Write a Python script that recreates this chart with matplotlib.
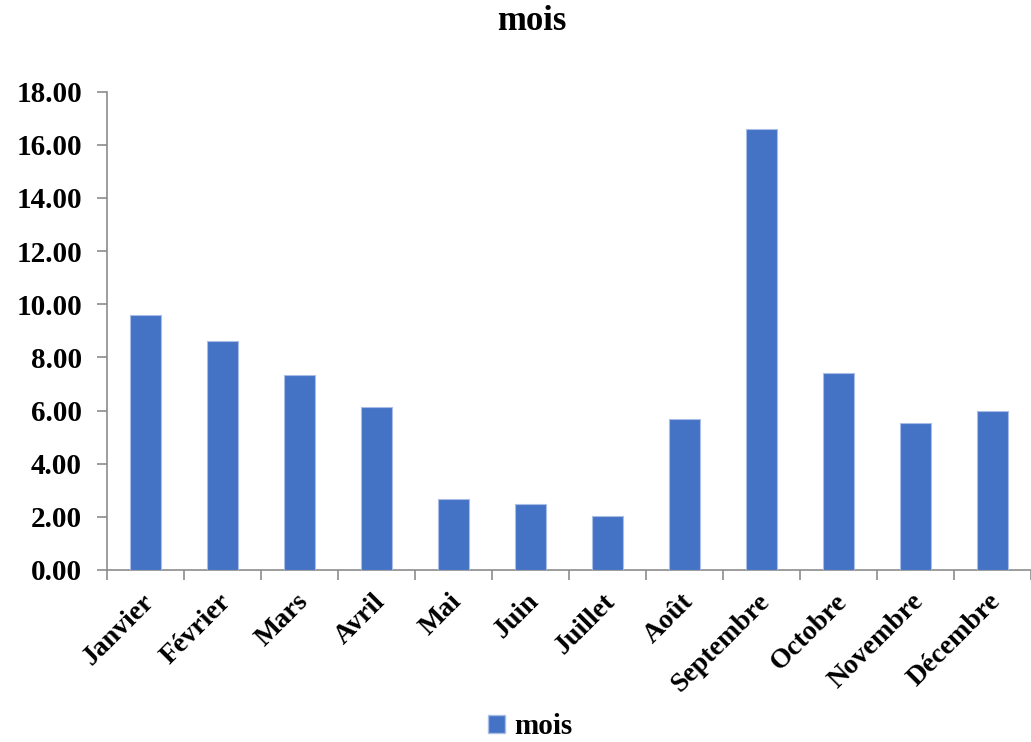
import matplotlib
matplotlib.use("Agg")
import matplotlib.pyplot as plt
from matplotlib.patches import Patch

# Monthly values
months = ["Janvier", "Février", "Mars", "Avril", "Mai", "Juin",
          "Juillet", "Août", "Septembre", "Octobre", "Novembre", "Décembre"]
values = [9.60, 8.62, 7.34, 6.13, 2.66, 2.50,
          2.04, 5.67, 16.61, 7.41, 5.53, 5.98]
y_ticks = [0, 2, 4, 6, 8, 10, 12, 14, 16, 18]
series_name = "mois"

bar_color = "#4472C4"
axis_color = "#8c8c8c"

plt.rcParams["font.family"] = ["Liberation Serif", "DejaVu Serif"]
plt.rcParams["font.weight"] = "bold"

fig = plt.figure(figsize=(10.31, 7.42), dpi=100)
W, H = 1031, 742
left, right, bottom, top = 107, 1031, 570, 91.7
ax = fig.add_axes([left / W, 1 - bottom / H, (right - left) / W, (bottom - top) / H])

x = list(range(len(months)))
ax.bar(x, values, width=0.4, color=bar_color, edgecolor="#a9bde6", linewidth=0.8, zorder=3)

cat_px = 77.5
ax.set_xlim(-0.5, -0.5 + (right - left) / cat_px)
ax.set_ylim(0, 18)

ax.set_yticks(y_ticks)
ax.set_yticklabels([f"{v:.2f}" for v in y_ticks], fontsize=21, fontweight="bold")

# category boundaries carry the tick marks, labels sit at the bar centres
ax.set_xticks([i - 0.5 for i in range(len(months) + 1)])
ax.set_xticklabels([])
ax.set_xticks([i + 0.06 for i in x], minor=True)
ax.set_xticklabels(months, minor=True, rotation=45, ha="right", va="center",
                   rotation_mode="anchor", fontsize=20, fontweight="bold")
ax.tick_params(axis="x", which="minor", length=0, pad=20)
ax.tick_params(axis="x", which="major", length=7, width=1.2, color=axis_color)
ax.tick_params(axis="y", length=7, width=1.2, color=axis_color, pad=11)

for side in ["top", "right"]:
    ax.spines[side].set_visible(False)
for side in ["left", "bottom"]:
    ax.spines[side].set_color(axis_color)
    ax.spines[side].set_linewidth(1.2)

fig.text(532 / W, 1 - 22 / H, series_name, ha="center", va="center",
         fontsize=25, fontweight="bold")

handle = Patch(facecolor=bar_color, edgecolor="#a9bde6", label=series_name)
fig.legend(handles=[handle], loc="center", bbox_to_anchor=(530 / W, 1 - 727 / H),
           frameon=False, handlelength=0.6, handleheight=0.6,
           handletextpad=0.3, borderpad=0.1, prop={"weight": "bold", "size": 21})

fig.savefig("out.png", dpi=100, facecolor="white")
